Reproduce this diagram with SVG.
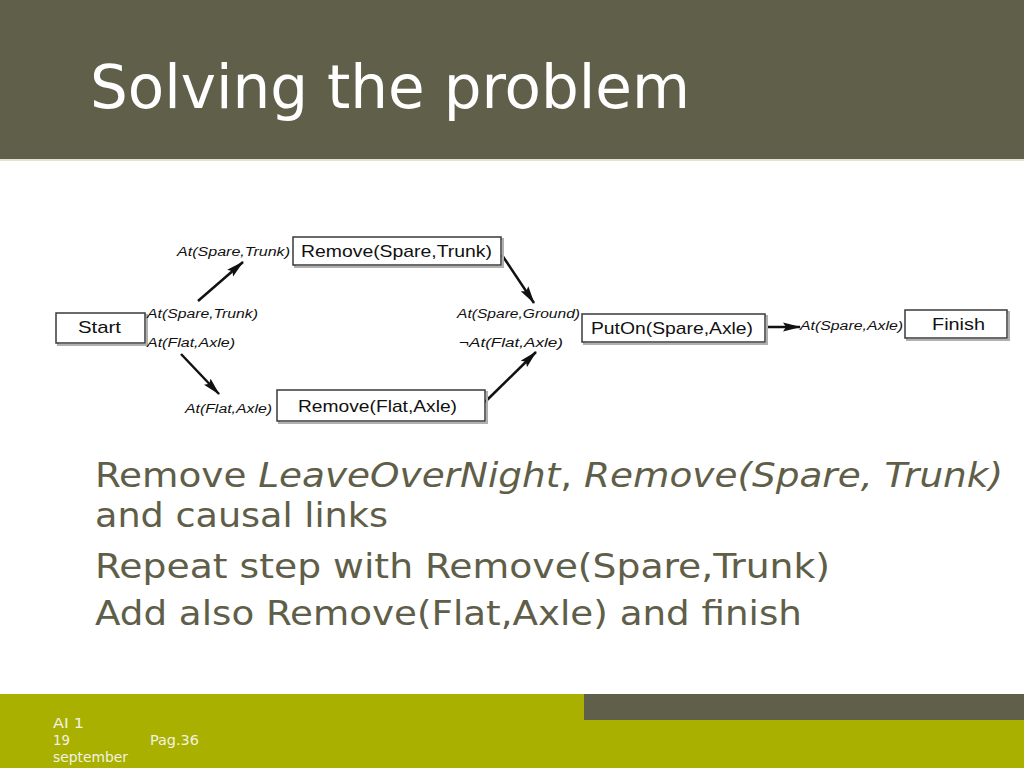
<svg xmlns="http://www.w3.org/2000/svg" width="1024" height="768" viewBox="0 0 1024 768">
<defs>
<style>
.title{font-family:"DejaVu Sans","Liberation Sans",sans-serif;font-size:60px;fill:#ffffff}
.body{font-family:"DejaVu Sans Condensed","DejaVu Sans",sans-serif;font-stretch:condensed;font-size:33px;fill:#5f5e48}
.it{font-style:italic}
.foot{font-family:"DejaVu Sans Condensed","DejaVu Sans",sans-serif;font-stretch:condensed;font-size:14px;fill:#f2f2e2}
.box{fill:#ffffff;stroke:#3a3a3a;stroke-width:1.5}
.shadow{fill:none;stroke:#b0b0b0;stroke-width:2}
.btxt{font-family:"Liberation Sans",Arial,sans-serif;font-size:17px;fill:#111111}
.lbl{font-family:"Liberation Sans",Arial,sans-serif;font-size:12.5px;font-style:italic;fill:#111111}
.conn{stroke:#111111;stroke-width:2.5;fill:none;marker-end:url(#ah)}
</style>
<marker id="ah" viewBox="0 0 18 10" refX="17" refY="5" markerWidth="18" markerHeight="10" markerUnits="userSpaceOnUse" orient="auto">
<path d="M0,0.5 L18,5 L0,9.5 L3,5 Z" fill="#111111"/>
</marker>
</defs>
<rect x="0" y="0" width="1024" height="768" fill="#ffffff"/>
<g id="header">
<rect x="0" y="0" width="1024" height="159" fill="#605f4a"/>
<rect x="0" y="159" width="1024" height="2" fill="#e2e3d2"/>
<text class="title" x="90" y="108" textLength="600" lengthAdjust="spacingAndGlyphs">Solving the problem</text>
</g>
<g id="connectors">
<line class="conn" x1="198" y1="301" x2="243" y2="262"/>
<line class="conn" x1="181" y1="354" x2="219" y2="394"/>
<line class="conn" x1="502" y1="255" x2="534" y2="303"/>
<line class="conn" x1="485" y1="402" x2="536" y2="352"/>
<line class="conn" x1="766" y1="327" x2="800" y2="327"/>
</g>
<g id="node-start">
<rect class="shadow" x="58" y="315" width="89" height="30"/>
<rect class="box" x="56" y="313" width="89" height="30"/>
<text class="btxt" x="78" y="333" textLength="43" lengthAdjust="spacingAndGlyphs">Start</text>
<text class="lbl" x="147" y="318" textLength="111" lengthAdjust="spacingAndGlyphs">At(Spare,Trunk)</text>
<text class="lbl" x="147" y="347" textLength="88" lengthAdjust="spacingAndGlyphs">At(Flat,Axle)</text>
</g>
<g id="node-remove-spare">
<rect class="shadow" x="295" y="239" width="208" height="28"/>
<rect class="box" x="293" y="237" width="208" height="28"/>
<text class="btxt" x="301" y="257" textLength="191" lengthAdjust="spacingAndGlyphs">Remove(Spare,Trunk)</text>
<text class="lbl" x="177" y="256" textLength="113" lengthAdjust="spacingAndGlyphs">At(Spare,Trunk)</text>
</g>
<g id="node-remove-flat">
<rect class="shadow" x="279" y="392" width="208" height="31"/>
<rect class="box" x="277" y="390" width="208" height="31"/>
<text class="btxt" x="298" y="412" textLength="159" lengthAdjust="spacingAndGlyphs">Remove(Flat,Axle)</text>
<text class="lbl" x="185" y="413" textLength="87" lengthAdjust="spacingAndGlyphs">At(Flat,Axle)</text>
</g>
<g id="node-puton">
<rect class="shadow" x="584" y="316" width="183" height="28"/>
<rect class="box" x="582" y="314" width="183" height="28"/>
<text class="btxt" x="591" y="334" textLength="162" lengthAdjust="spacingAndGlyphs">PutOn(Spare,Axle)</text>
<text class="lbl" x="457" y="318" textLength="123" lengthAdjust="spacingAndGlyphs">At(Spare,Ground)</text>
<text class="lbl" x="459" y="347" textLength="104" lengthAdjust="spacingAndGlyphs">¬At(Flat,Axle)</text>
</g>
<g id="node-finish">
<rect class="shadow" x="907" y="312" width="102" height="28"/>
<rect class="box" x="905" y="310" width="102" height="28"/>
<text class="btxt" x="932" y="330" textLength="53" lengthAdjust="spacingAndGlyphs">Finish</text>
<text class="lbl" x="800" y="330" textLength="103" lengthAdjust="spacingAndGlyphs">At(Spare,Axle)</text>
</g>
<g id="bullets">
<text class="body" x="95" y="487" textLength="908" lengthAdjust="spacingAndGlyphs">Remove <tspan class="it">LeaveOverNight</tspan>, <tspan class="it">Remove(Spare, Trunk)</tspan></text>
<text class="body" x="95" y="527" textLength="293" lengthAdjust="spacingAndGlyphs">and causal links</text>
<text class="body" x="95" y="578" textLength="735" lengthAdjust="spacingAndGlyphs">Repeat step with Remove(Spare,Trunk)</text>
<text class="body" x="95" y="625" textLength="707" lengthAdjust="spacingAndGlyphs">Add also Remove(Flat,Axle) and finish</text>
</g>
<g id="footer">
<rect x="0" y="694" width="1024" height="74" fill="#a9b000"/>
<rect x="584" y="694" width="440" height="26" fill="#605f4a"/>
<text class="foot" x="53" y="728" textLength="31" lengthAdjust="spacingAndGlyphs">AI 1</text>
<text class="foot" x="53" y="745" textLength="17" lengthAdjust="spacingAndGlyphs">19</text>
<text class="foot" x="53" y="762" textLength="75" lengthAdjust="spacingAndGlyphs">september</text>
<text class="foot" x="150" y="745" textLength="49" lengthAdjust="spacingAndGlyphs">Pag.36</text>
</g>
</svg>
